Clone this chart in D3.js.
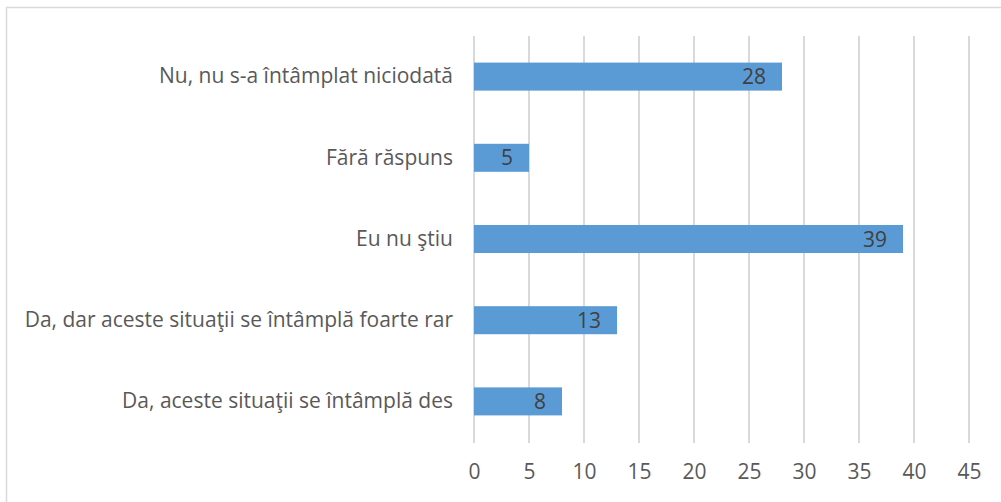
<!DOCTYPE html>
<html>
<head>
<meta charset="utf-8">
<script src="https://cdn.jsdelivr.net/npm/d3@7"></script>
<style>
  body { margin: 0; background: #fff; }
  text { font-family: "Open Sans", sans-serif; }
</style>
</head>
<body>
<script>
// categories, top to bottom
let categories = [
    'Nu, nu s-a întâmplat niciodată',
    'Fără răspuns',
    'Eu nu ştiu',
    'Da, dar aceste situaţii se întâmplă foarte rar',
    'Da, aceste situaţii se întâmplă des'
]
let values = [28, 5, 39, 13, 8]
let ticks = [0, 5, 10, 15, 20, 25, 30, 35, 40, 45]

let width = 1001
let height = 502

let svg = d3.select('body')
            .append('svg')
            .attr('width', width)
            .attr('height', height)

// chart border
svg.append('rect')
    .attr('x', 6.5)
    .attr('y', 7.5)
    .attr('width', 1010)
    .attr('height', 510)
    .attr('fill', 'none')
    .attr('stroke', '#d9d9d9')
    .attr('stroke-width', 1.5)

let xScale = d3.scaleLinear()
                .domain([0, 45])
                .range([474, 969])

let yScale = d3.scaleBand()
                .domain(categories)
                .range([36, 442])
                .paddingInner(0.655)
                .paddingOuter(0.3275)

// gridlines
svg.append('g')
    .selectAll('line')
    .data(ticks)
    .enter()
    .append('line')
    .attr('x1', (d) => xScale(d))
    .attr('x2', (d) => xScale(d))
    .attr('y1', 36)
    .attr('y2', 443)
    .attr('stroke', '#d9d9d9')
    .attr('stroke-width', 2)

// x axis labels
let xAxis = d3.axisBottom(xScale)
                .tickValues(ticks)
                .tickSize(0)
                .tickPadding(0)

let gx = svg.append('g')
    .attr('transform', 'translate(0, 464)')
    .call(xAxis)
gx.select('.domain').remove()
gx.selectAll('text')
    .attr('font-family', '"Open Sans", sans-serif')
    .attr('font-size', 21)
    .attr('fill', '#595959')
    .attr('dy', '0.71em')

// y axis labels
let yAxis = d3.axisLeft(yScale)
                .tickSize(0)
                .tickPadding(0)

let gy = svg.append('g')
    .attr('transform', 'translate(453, 0)')
    .call(yAxis)
gy.select('.domain').remove()
gy.selectAll('text')
    .attr('font-family', '"Open Sans", sans-serif')
    .attr('font-size', 21)
    .attr('fill', '#595959')

// bars
svg.selectAll('rect.bar')
    .data(values)
    .enter()
    .append('rect')
    .attr('class', 'bar')
    .attr('x', xScale(0))
    .attr('y', (d, i) => yScale(categories[i]))
    .attr('width', (d) => xScale(d) - xScale(0))
    .attr('height', yScale.bandwidth())
    .attr('fill', '#5b9bd5')

// value labels
svg.selectAll('text.value')
    .data(values)
    .enter()
    .append('text')
    .attr('class', 'value')
    .attr('x', (d) => xScale(d) - 16)
    .attr('y', (d, i) => yScale(categories[i]) + yScale.bandwidth() / 2)
    .attr('dy', '0.36em')
    .attr('text-anchor', 'end')
    .attr('font-size', 21)
    .attr('fill', '#404040')
    .text((d) => d)
</script>
</body>
</html>
